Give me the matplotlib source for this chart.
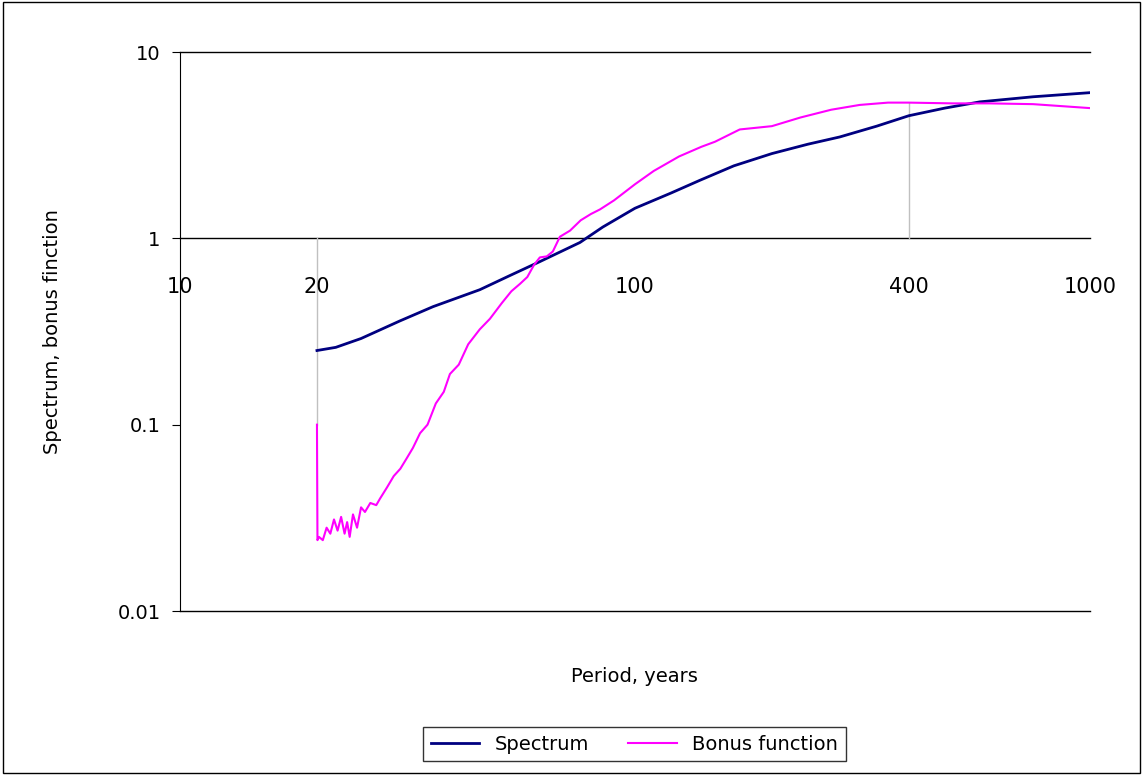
import matplotlib
matplotlib.use("Agg")
import matplotlib.pyplot as plt
from matplotlib.lines import Line2D
from matplotlib.patches import Rectangle

spec_period = [20, 22, 25, 30.4, 36, 45.6, 53, 61.8, 75.7, 85, 100, 120, 139, 165, 200, 240, 282, 340, 400, 480, 573, 750, 1000]
spec_value = [0.25, 0.26, 0.29, 0.36, 0.43, 0.53, 0.63, 0.75, 0.95, 1.15, 1.45, 1.75, 2.05, 2.45, 2.85, 3.2, 3.5, 4.0, 4.55, 5.0, 5.4, 5.75, 6.05]

bonus_period = [20, 20.05, 20.2, 20.6, 21.0, 21.4, 21.8, 22.2, 22.6, 23.0, 23.3, 23.6, 24.0, 24.5, 25.0, 25.5, 26.2, 27.0, 27.5, 28.5, 29.5, 30.5,
                31.5, 32.5, 33.7, 35, 36.5, 38, 39.2, 41, 43, 45.6, 48, 51, 53.5, 55.9, 58, 60, 61.8, 64, 66, 68.4, 72, 76, 80, 83.8,
                90, 100, 110, 125, 140, 150, 170, 200, 231, 270, 312, 360, 400, 500, 600, 750, 1000]
bonus_value = [0.1, 0.024, 0.025, 0.024, 0.028, 0.026, 0.031, 0.027, 0.032, 0.026, 0.030, 0.025, 0.033, 0.028, 0.036, 0.034, 0.038, 0.037, 0.040, 0.046, 0.053, 0.058,
               0.066, 0.075, 0.09, 0.10, 0.13, 0.15, 0.187, 0.21, 0.27, 0.325, 0.37, 0.45, 0.52, 0.57, 0.62, 0.72, 0.79, 0.80, 0.85, 1.02, 1.1, 1.25, 1.35, 1.43,
               1.6, 1.95, 2.3, 2.75, 3.1, 3.3, 3.84, 4.0, 4.45, 4.9, 5.2, 5.35, 5.35, 5.3, 5.3, 5.25, 5.0]

xticks = [10, 20, 100, 400, 1000]
yticks = [10, 1, 0.1, 0.01]
ytick_labels = ["10", "1", "0.1", "0.01"]

fig = plt.figure(figsize=(11.43, 7.75), dpi=100)
fig.patches.append(Rectangle((0.003, 0.003), 0.994, 0.994, transform=fig.transFigure,
                             fill=False, edgecolor="black", lw=1))
ax = fig.add_axes([0.1575, 0.2116, 0.796, 0.7213])
ax.set_xscale("log"); ax.set_yscale("log")
ax.set_xlim(10, 1000); ax.set_ylim(0.01, 10)
for s in ["top", "right", "bottom"]:
    ax.spines[s].set_visible(False)
ax.spines["left"].set_color("black")
ax.set_xticks([]); ax.set_xticks([], minor=True)
ax.set_yticks(yticks); ax.set_yticks([], minor=True)
ax.set_yticklabels(ytick_labels, fontsize=14)
ax.tick_params(axis="y", length=6, direction="out", pad=8)
for yv in [10, 1, 0.01]:
    ax.axhline(yv, color="black", lw=1, clip_on=False)
# drop lines
ax.plot([20, 20], [1, 0.1], color="#c0c0c0", lw=1)
ax.plot([400, 400], [1, 5.35], color="#c0c0c0", lw=1)
ax.plot(spec_period, spec_value, color="#000080", lw=2)
ax.plot(bonus_period, bonus_value, color="#ff00ff", lw=1.5)
for xv in xticks:
    ax.text(xv, 0.55, str(xv), ha="center", va="center", fontsize=15)
ax.set_xlabel("Period, years", fontsize=14, labelpad=40)
ax.set_ylabel("Spectrum, bonus finction", fontsize=14, labelpad=40)

handles = [Line2D([], [], color="#000080", lw=2), Line2D([], [], color="#ff00ff", lw=1.5)]
leg = fig.legend(handles, ["Spectrum", "Bonus function"], loc="center", bbox_to_anchor=(0.555, 0.04),
                 ncol=2, fontsize=14, frameon=True, fancybox=False, edgecolor="black",
                 handlelength=2.5, columnspacing=2)
leg.get_frame().set_linewidth(1)
fig.savefig("out.png", dpi=100)
